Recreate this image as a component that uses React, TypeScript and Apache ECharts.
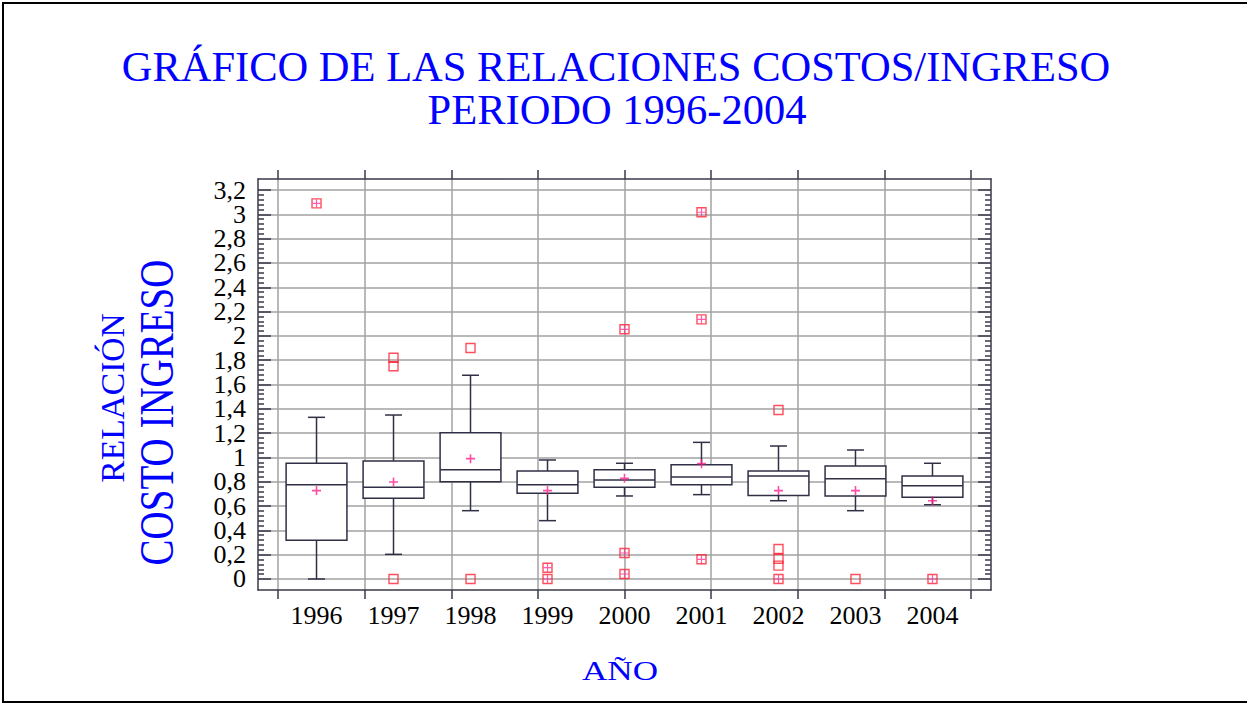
import React, { useEffect, useRef } from 'react';
import * as echarts from 'echarts';

const years = ['1996', '1997', '1998', '1999', '2000', '2001', '2002', '2003', '2004'];
const whiskerLow = [0, 0.203, 0.562, 0.48, 0.683, 0.694, 0.644, 0.562, 0.611];
const quartile1 = [0.318, 0.664, 0.8, 0.705, 0.754, 0.776, 0.686, 0.683, 0.672];
const medians = [0.776, 0.754, 0.899, 0.776, 0.814, 0.839, 0.847, 0.825, 0.768];
const quartile3 = [0.952, 0.971, 1.204, 0.888, 0.899, 0.94, 0.888, 0.93, 0.847];
const whiskerHigh = [1.33, 1.349, 1.676, 0.979, 0.952, 1.124, 1.094, 1.061, 0.952];
const means = [0.727, 0.798, 0.99, 0.727, 0.828, 0.949, 0.727, 0.727, 0.644];

const outsidePoints: [string, number][] = [
  ['1997', 1.82], ['1997', 1.75], ['1997', 0],
  ['1998', 1.9], ['1998', 0],
  ['2002', 1.39], ['2002', 0.247], ['2002', 0.167], ['2002', 0.11],
  ['2003', 0],
];
const farOutsidePoints: [string, number][] = [
  ['1996', 3.09],
  ['1999', 0.093], ['1999', 0],
  ['2000', 2.054], ['2000', 0.214], ['2000', 0.041],
  ['2001', 3.017], ['2001', 2.136], ['2001', 0.162],
  ['2002', 0],
  ['2004', 0],
];

const yTickValues = [0, 0.2, 0.4, 0.6, 0.8, 1, 1.2, 1.4, 1.6, 1.8, 2, 2.2, 2.4, 2.6, 2.8, 3, 3.2];
const xGridPositions = [-0.5, 0.625, 1.75, 2.875, 4, 5.125, 6.25, 7.375, 8.5];

const SERIF = '"Liberation Serif", "Times New Roman", serif';
const AXIS_COLOR = '#3a3a4a';
const GRID_COLOR = '#a2a2a2';

export default function App() {
  const ref = useRef<HTMLDivElement>(null);

  useEffect(() => {
    if (!ref.current) return;
    const chart = echarts.init(ref.current, undefined, { renderer: 'svg' });

    const yMinor: number[] = [];
    for (let k = 0; k <= 80; k++) {
      const v = Math.round(k * 0.04 * 1000) / 1000;
      if (Math.abs(v * 5 - Math.round(v * 5)) > 1e-6) yMinor.push(v);
    }
    // split the labels over two left axes so that ECharts does not hide neighbours
    const yLabelsA = yTickValues.filter((_, i) => i % 2 === 0);
    const yLabelsB = yTickValues.filter((_, i) => i % 2 === 1);

    const idx = (y: string) => years.indexOf(y);
    const boxData = years.map((_, i) => [i, whiskerLow[i], quartile1[i], medians[i], quartile3[i], whiskerHigh[i]]);
    const meanData = years.map((_, i) => [i, means[i]]);
    const outData = outsidePoints.map(([y, v]) => [idx(y), v]);
    const farData = farOutsidePoints.map(([y, v]) => [idx(y), v]);

    const yMin = -0.0905;
    const yMax = 3.2905;
    const xMin = -0.76;
    const xMax = 8.76;
    const fmtY = (v: number) => String(Math.round(v * 10) / 10).replace('.', ',');
    const tickStyle = { color: AXIS_COLOR, width: 1.5 };
    const yLabelStyle = {
      show: true, formatter: fmtY,
      fontFamily: SERIF, fontSize: 26, lineHeight: 20, color: '#000', margin: 12,
      showMinLabel: true, showMaxLabel: true,
    };

    const option: any = {
      animation: false,
      backgroundColor: '#ffffff',
      grid: { left: 258, top: 179, width: 733, height: 411, containLabel: false },
      xAxis: [
        {
          type: 'value', position: 'bottom', min: xMin, max: xMax,
          axisLine: { show: true, onZero: false, lineStyle: tickStyle },
          axisTick: { show: true, customValues: xGridPositions, inside: false, length: 9, lineStyle: tickStyle },
          axisLabel: {
            show: true, customValues: [0, 1, 2, 3, 4, 5, 6, 7, 8],
            formatter: (v: number) => years[Math.round(v)] ?? '',
            fontFamily: SERIF, fontSize: 26, color: '#000', margin: 12,
            showMinLabel: true, showMaxLabel: true,
          },
          splitLine: { show: true, lineStyle: { color: GRID_COLOR, width: 1.5 } },
        },
        {
          type: 'value', position: 'top', min: xMin, max: xMax,
          axisLine: { show: true, onZero: false, lineStyle: tickStyle },
          axisTick: { show: true, customValues: xGridPositions, inside: false, length: 9, lineStyle: tickStyle },
          axisLabel: { show: false },
          splitLine: { show: false },
        },
      ],
      yAxis: [
        {
          type: 'value', position: 'left', min: yMin, max: yMax,
          axisLine: { show: true, onZero: false, lineStyle: tickStyle },
          axisTick: { show: true, customValues: yTickValues, inside: true, length: 13, lineStyle: tickStyle },
          axisLabel: { ...yLabelStyle, customValues: yLabelsA },
          splitLine: { show: true, lineStyle: { color: GRID_COLOR, width: 1.5 } },
        },
        {
          type: 'value', position: 'left', min: yMin, max: yMax,
          axisLine: { show: false, onZero: false },
          axisTick: { show: true, customValues: yMinor, inside: true, length: 6, lineStyle: tickStyle },
          axisLabel: { ...yLabelStyle, customValues: yLabelsB },
          splitLine: { show: false },
        },
        {
          type: 'value', position: 'right', min: yMin, max: yMax,
          axisLine: { show: true, onZero: false, lineStyle: tickStyle },
          axisTick: { show: true, customValues: yTickValues, inside: true, length: 13, lineStyle: tickStyle },
          axisLabel: { show: false },
          splitLine: { show: false },
        },
        {
          type: 'value', position: 'right', min: yMin, max: yMax,
          axisLine: { show: false, onZero: false },
          axisTick: { show: true, customValues: yMinor, inside: true, length: 6, lineStyle: tickStyle },
          axisLabel: { show: false },
          splitLine: { show: false },
        },
      ],
      series: [
        {
          type: 'custom',
          xAxisIndex: 0, yAxisIndex: 0,
          data: boxData,
          encode: { x: 0, y: [1, 2, 3, 4, 5] },
          z: 3,
          renderItem: (params: any, api: any) => {
            const x = api.value(0);
            const pLow = api.coord([x, api.value(1)]);
            const pQ1 = api.coord([x, api.value(2)]);
            const pMed = api.coord([x, api.value(3)]);
            const pQ3 = api.coord([x, api.value(4)]);
            const pHigh = api.coord([x, api.value(5)]);
            const bw = api.size([0.79, 0])[0];
            const cw = api.size([0.22, 0])[0];
            const cx = pMed[0];
            const st = { stroke: '#2f2f45', lineWidth: 1.5, fill: 'none' };
            return {
              type: 'group',
              children: [
                { type: 'line', shape: { x1: cx, y1: pQ3[1], x2: cx, y2: pHigh[1] }, style: st },
                { type: 'line', shape: { x1: cx - cw / 2, y1: pHigh[1], x2: cx + cw / 2, y2: pHigh[1] }, style: st },
                { type: 'line', shape: { x1: cx, y1: pQ1[1], x2: cx, y2: pLow[1] }, style: st },
                { type: 'line', shape: { x1: cx - cw / 2, y1: pLow[1], x2: cx + cw / 2, y2: pLow[1] }, style: st },
                {
                  type: 'rect',
                  shape: { x: cx - bw / 2, y: pQ3[1], width: bw, height: pQ1[1] - pQ3[1] },
                  style: { stroke: '#2f2f45', lineWidth: 1.5, fill: '#ffffff' },
                },
                { type: 'line', shape: { x1: cx - bw / 2, y1: pMed[1], x2: cx + bw / 2, y2: pMed[1] }, style: st },
              ],
            };
          },
        },
        {
          type: 'scatter', xAxisIndex: 0, yAxisIndex: 0, z: 4,
          data: meanData,
          symbol: 'path://M0,5L10,5M5,0L5,10',
          symbolSize: 9,
          itemStyle: { color: 'rgba(0,0,0,0)', borderColor: '#ff1f8f', borderWidth: 1.6 },
        },
        {
          type: 'scatter', xAxisIndex: 0, yAxisIndex: 0, z: 4,
          data: outData,
          symbol: 'rect',
          symbolSize: 9,
          itemStyle: { color: 'rgba(0,0,0,0)', borderColor: '#ff2233', borderWidth: 1.4 },
        },
        {
          type: 'scatter', xAxisIndex: 0, yAxisIndex: 0, z: 4,
          data: farData,
          symbol: 'rect',
          symbolSize: 9,
          itemStyle: { color: 'rgba(0,0,0,0)', borderColor: '#ff2233', borderWidth: 1.4 },
        },
        {
          type: 'scatter', xAxisIndex: 0, yAxisIndex: 0, z: 5,
          data: farData,
          symbol: 'path://M0,5L10,5M5,0L5,10',
          symbolSize: 8,
          itemStyle: { color: 'rgba(0,0,0,0)', borderColor: '#ff3399', borderWidth: 1.2 },
        },
      ],
      graphic: [
        {
          type: 'rect', z: 100,
          shape: { x: 3, y: 3, width: 1270, height: 699 },
          style: { fill: 'none', stroke: '#000', lineWidth: 2 },
        },
        {
          type: 'text', x: 616, y: 66,
          style: {
            text: 'GRÁFICO DE LAS RELACIONES COSTOS/INGRESO',
            font: `42.5px ${SERIF}`, fill: '#0000ff',
            align: 'center', verticalAlign: 'middle',
            textAlign: 'center', textVerticalAlign: 'middle',
          },
        },
        {
          type: 'text', x: 617, y: 109,
          style: {
            text: 'PERIODO 1996-2004',
            font: `42.5px ${SERIF}`, fill: '#0000ff',
            align: 'center', verticalAlign: 'middle',
            textAlign: 'center', textVerticalAlign: 'middle',
          },
        },
        {
          type: 'text', x: 620, y: 670.5, scaleX: 1.3,
          style: {
            text: 'AÑO',
            font: `27px ${SERIF}`, fill: '#0000ff',
            align: 'center', verticalAlign: 'middle',
            textAlign: 'center', textVerticalAlign: 'middle',
          },
        },
        {
          type: 'text', x: 112.5, y: 398, rotation: Math.PI / 2,
          style: {
            text: 'RELACIÓN',
            font: `33.5px ${SERIF}`, fill: '#0000ff',
            align: 'center', verticalAlign: 'middle',
            textAlign: 'center', textVerticalAlign: 'middle',
          },
        },
        {
          type: 'text', x: 157, y: 412.5, rotation: Math.PI / 2, scaleY: 1.24,
          style: {
            text: 'COSTO INGRESO',
            font: `39px ${SERIF}`, fill: '#0000ff',
            align: 'center', verticalAlign: 'middle',
            textAlign: 'center', textVerticalAlign: 'middle',
          },
        },
      ],
    };

    chart.setOption(option);
    return () => chart.dispose();
  }, []);

  return (
    <div
      ref={ref}
      style={{ position: 'absolute', left: 0, top: 0, width: 1247, height: 704, background: '#fff' }}
    />
  );
}
